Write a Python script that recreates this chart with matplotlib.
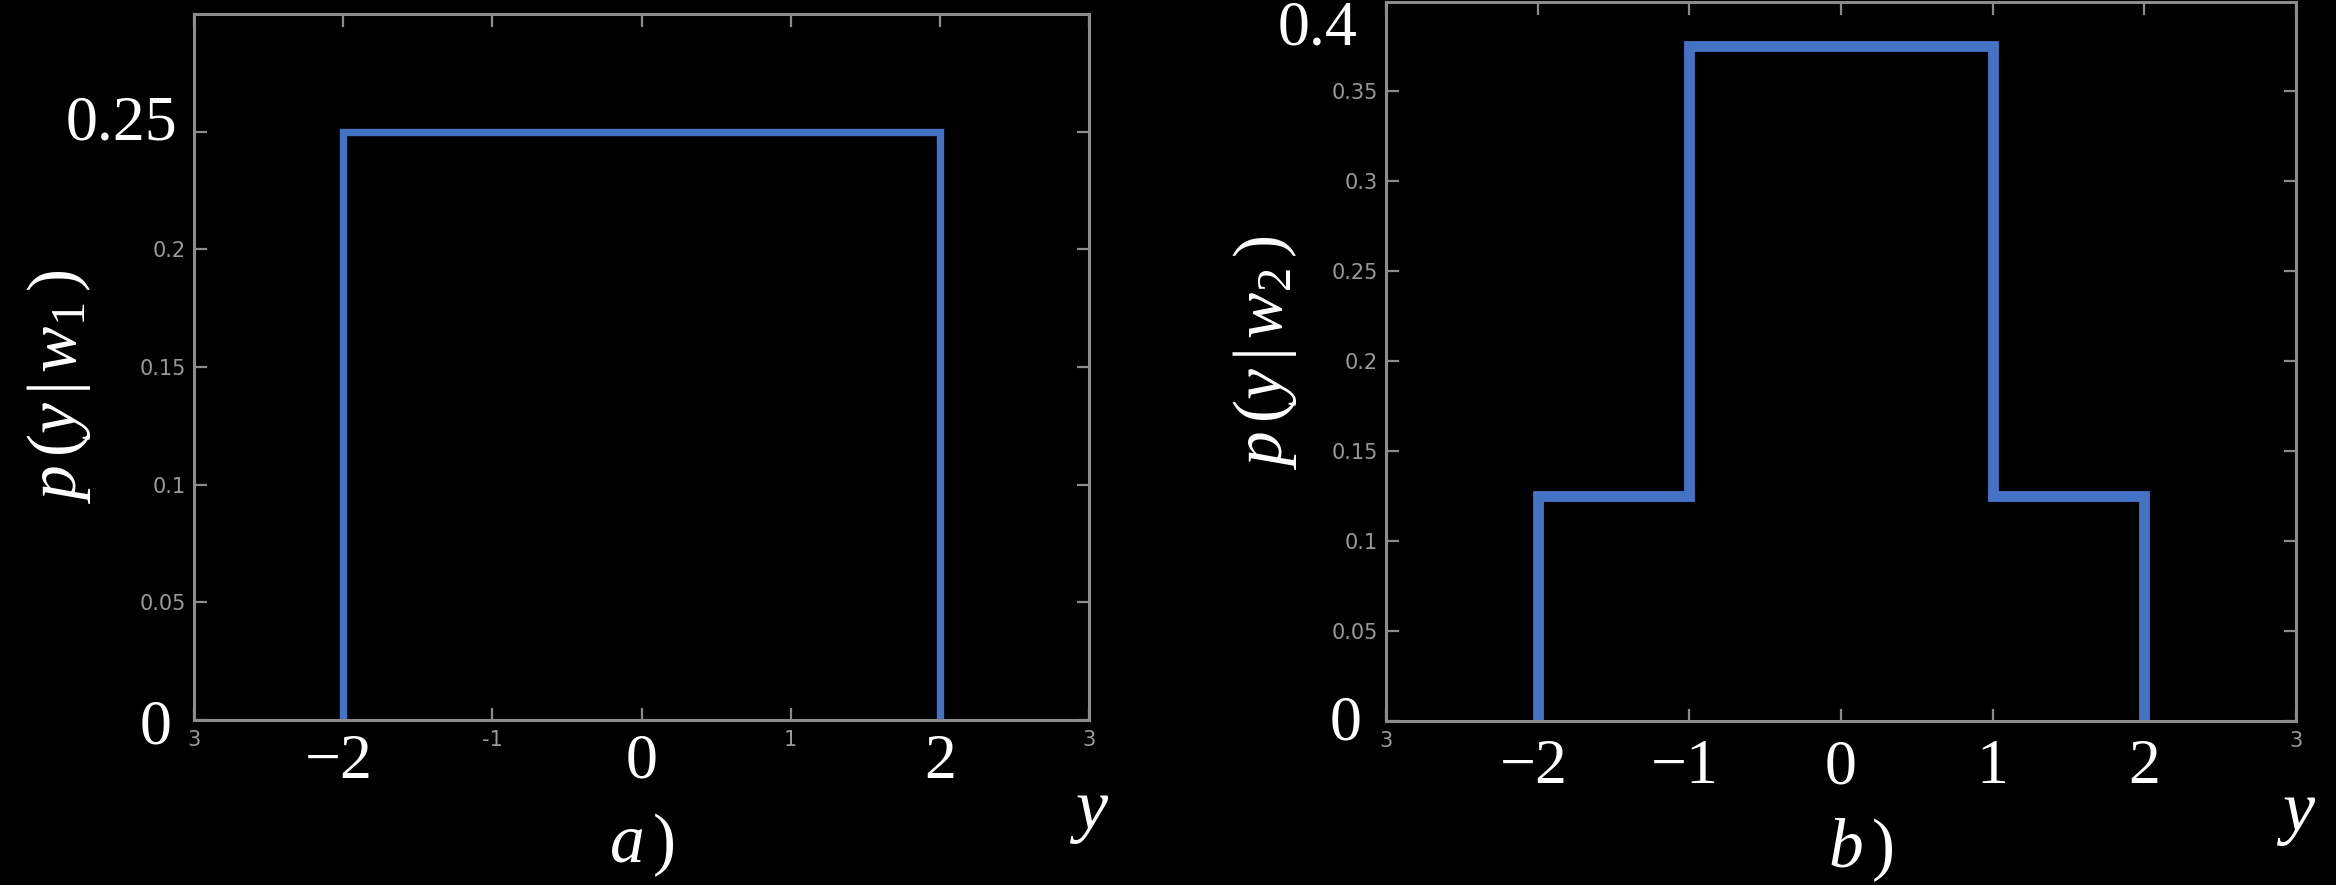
import matplotlib
matplotlib.use('Agg')
import matplotlib.pyplot as plt
import numpy as np

# step densities, panel a) and b)
edges_a = [-2, 2]
dens_a = [0.25]
edges_b = [-2, -1, 1, 2]
dens_b = [0.125, 0.375, 0.125]

xlim = (-3, 3)
ylim_a = (0, 0.3)
ylim_b = (0, 0.4)

# small matlab-style tick labels (the rest sit under the big labels)
xticks = [-3, -2, -1, 0, 1, 2, 3]
small_xlab_a = ['3', '', '-1', '', '1', '', '3']
small_xlab_b = ['3', '', '', '', '', '', '3']
yticks_a = [0, 0.05, 0.1, 0.15, 0.2, 0.25]
small_ylab_a = ['', '0.05', '0.1', '0.15', '0.2', '']
yticks_b = [0, 0.05, 0.1, 0.15, 0.2, 0.25, 0.3, 0.35]
small_ylab_b = ['', '0.05', '0.1', '0.15', '0.2', '0.25', '0.3', '0.35']

# big overlaid labels
big_x_a = [-2, 0, 2]
big_x_b = [-2, -1, 0, 1, 2]
big_y_a = [0, 0.25]
big_y_b = [0, 0.4]

plt.rcParams['mathtext.fontset'] = 'custom'
plt.rcParams['mathtext.rm'] = 'Liberation Serif'
plt.rcParams['mathtext.it'] = 'Liberation Serif:italic'

LINE = '#4472C4'
GRAY = '#8c8c8c'
BIG = 46

fig = plt.figure(figsize=(23.36, 8.85), dpi=100, facecolor='black')
ax_a = fig.add_axes([194 / 2336, 1 - 720 / 885, 895 / 2336, 706 / 885])
ax_b = fig.add_axes([1386 / 2336, 1 - 721 / 885, 910 / 2336, 719.5 / 885])


def setup(ax, edges, dens, ylim, yticks, small_ylab, small_xlab, lw):
    ax.set_facecolor('black')
    ax.stairs(dens, edges, baseline=0, color=LINE, linewidth=lw,
              joinstyle='miter', zorder=3)
    ax.set_xlim(*xlim)
    ax.set_ylim(*ylim)
    ax.set_xticks(xticks)
    ax.set_xticklabels(small_xlab)
    ax.set_yticks(yticks)
    ax.set_yticklabels(small_ylab)
    ax.tick_params(direction='in', length=9, width=1.6, color=GRAY,
                   labelcolor='#9a9a9a', labelsize=15, top=True, right=True)
    ax.tick_params(axis='x', pad=7)
    ax.tick_params(axis='y', pad=6)
    for s in ax.spines.values():
        s.set_color(GRAY)
        s.set_linewidth(2.2)
        s.set_zorder(4)


def big_label(ax, s, xy, coords, off, size=BIG, **kw):
    ax.annotate(s, xy=xy, xycoords=coords, xytext=off,
                textcoords='offset pixels', color='white', fontsize=size,
                family='Liberation Serif', annotation_clip=False, **kw)


setup(ax_a, edges_a, dens_a, ylim_a, yticks_a, small_ylab_a, small_xlab_a, 5.3)
setup(ax_b, edges_b, dens_b, ylim_b, yticks_b, small_ylab_b, small_xlab_b, 7.8)

# panel a) big labels
for v in big_x_a:
    big_label(ax_a, f'{v}'.replace('-', '\u2212'), (v, 0), ax_a.get_xaxis_transform(),
              (-4 if v < 0 else 0, -43), ha='center', va='center')
big_label(ax_a, '0', (0, big_y_a[0]), ax_a.get_yaxis_transform(), (-22, -8),
          ha='right', va='center')
big_label(ax_a, '0.25', (0, big_y_a[1]), ax_a.get_yaxis_transform(), (-17, 7),
          ha='right', va='center')
big_label(ax_a, r'$a\,)$', (0, 0), ax_a.get_xaxis_transform(), (0, -125),
          size=50, ha='center', va='center')
big_label(ax_a, '$y$', (1, 0), 'axes fraction', (0, -94),
          size=52, ha='center', va='center')
big_label(ax_a, r'$p\,(y\,|\,w_1\,)$', (0, 0.5), 'axes fraction', (-135, -20),
          size=50, ha='center', va='center', rotation=90)

# panel b) big labels
for v in big_x_b:
    big_label(ax_b, f'{v}'.replace('-', '\u2212'), (v, 0), ax_b.get_xaxis_transform(),
              (-4 if v < 0 else 0, -47), ha='center', va='center')
big_label(ax_b, '0', (0, big_y_b[0]), ax_b.get_yaxis_transform(), (-24, -4),
          ha='right', va='center')
big_label(ax_b, '0.4', (0, big_y_b[1]), ax_b.get_yaxis_transform(), (-29, -28),
          ha='right', va='center')
big_label(ax_b, r'$b\,)$', (0, 0), ax_b.get_xaxis_transform(), (20, -129),
          size=50, ha='center', va='center')
big_label(ax_b, '$y$', (1, 0), 'axes fraction', (0, -94),
          size=52, ha='center', va='center')
big_label(ax_b, r'$p\,(y\,|\,w_2\,)$', (0, 0.5), 'axes fraction', (-121, 8),
          size=50, ha='center', va='center', rotation=90)

fig.savefig('out.png', dpi=100, facecolor='black')
